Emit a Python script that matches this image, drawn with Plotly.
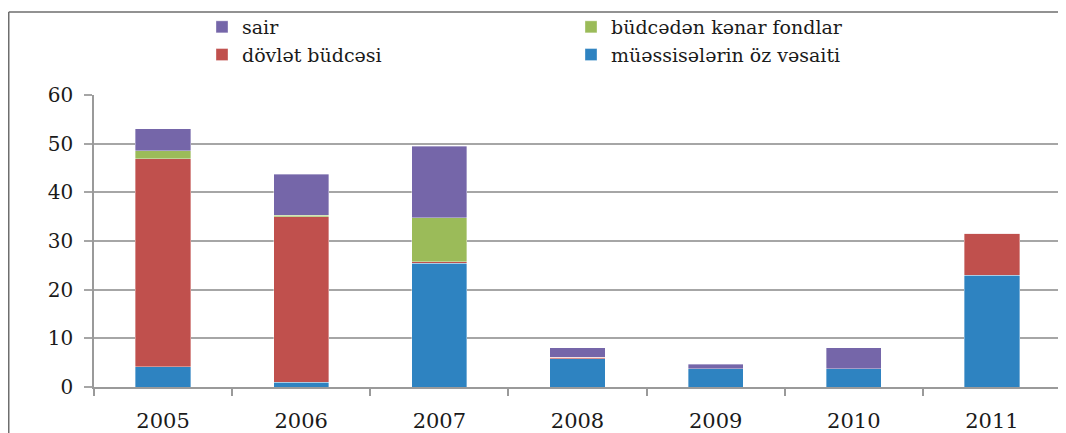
import plotly.graph_objects as go

years = ["2005", "2006", "2007", "2008", "2009", "2010", "2011"]
own_funds = [4.2, 1.0, 25.4, 5.8, 3.7, 3.7, 23.0]      # müəssisələrin öz vəsaiti
state_budget = [42.7, 34.0, 0.3, 0.3, 0.0, 0.0, 8.6]   # dövlət büdcəsi
extra_budget = [1.6, 0.3, 9.1, 0.0, 0.0, 0.0, 0.0]     # büdcədən kənar fondlar
other = [4.6, 8.4, 14.7, 2.0, 1.0, 4.4, 0.0]           # sair

y_ticks = [0, 10, 20, 30, 40, 50, 60]

# the page body has an 8px margin, so the figure is drawn 8px smaller
W, H = 1058, 425
ML, MR, MT, MB = 86, 5, 87, 46
pw = W - ML - MR
ph = H - MT - MB

def px_x(x):
    return (x - ML) / pw

def px_y(y):
    return (H - MB - y) / ph

fig = go.Figure()
series = [
    ("müəssisələrin öz vəsaiti", own_funds, "#2E83C1", "legend2"),
    ("dövlət büdcəsi", state_budget, "#C0504D", "legend"),
    ("büdcədən kənar fondlar", extra_budget, "#9BBB59", "legend2"),
    ("sair", other, "#7566A9", "legend"),
]
for name, vals, col, lg in series:
    fig.add_trace(go.Bar(
        x=years, y=vals, name=name, legend=lg,
        marker=dict(color=col, line=dict(width=0.6, color="rgba(255,255,255,0.6)")),
    ))

legend_font = dict(family="DejaVu Serif", size=19, color="#1a1a1a")
def leg(xp, yp):
    return dict(x=px_x(xp), y=px_y(yp), xanchor="left", yanchor="top",
                orientation="v", traceorder="reversed", font=legend_font,
                bgcolor="rgba(0,0,0,0)", tracegroupgap=0, itemwidth=30)

fig.update_layout(
    width=W, height=H,
    margin=dict(l=ML, r=MR, t=MT, b=MB, autoexpand=False),
    paper_bgcolor="white", plot_bgcolor="white",
    showlegend=True,
    barmode="stack", bargap=0.6,
    legend=leg(194, 0),
    legend2=leg(563, 0),
    xaxis=dict(
        type="category", showgrid=False, showline=True, linecolor="#9a9a9a", linewidth=1.5,
        ticks="outside", tickson="boundaries", ticklen=7, tickcolor="#9a9a9a", tickwidth=1.5,
        tickfont=dict(family="DejaVu Serif, serif", size=21, color="#1a1a1a"),
        ticklabelstandoff=14,
    ),
    yaxis=dict(
        range=[0, 60], tickvals=y_ticks, showgrid=True, gridcolor="#a6a6a6", gridwidth=1.5,
        showline=True, linecolor="#9a9a9a", linewidth=1.5,
        ticks="outside", ticklen=8, tickcolor="#a6a6a6", tickwidth=1.5,
        tickfont=dict(family="DejaVu Serif, serif", size=20, color="#1a1a1a"),
        ticklabelstandoff=7, zeroline=False,
    ),
)

# outer frame (top and left edges of the chart box)
fig.add_shape(type="line", xref="paper", yref="paper",
              x0=px_x(0.75), x1=px_x(W), y0=px_y(4), y1=px_y(4),
              line=dict(color="#6e6e6e", width=1.5))
fig.add_shape(type="line", xref="paper", yref="paper",
              x0=px_x(0.75), x1=px_x(0.75), y0=px_y(4), y1=px_y(H),
              line=dict(color="#6e6e6e", width=1.5))

fig.write_html("out.html")
